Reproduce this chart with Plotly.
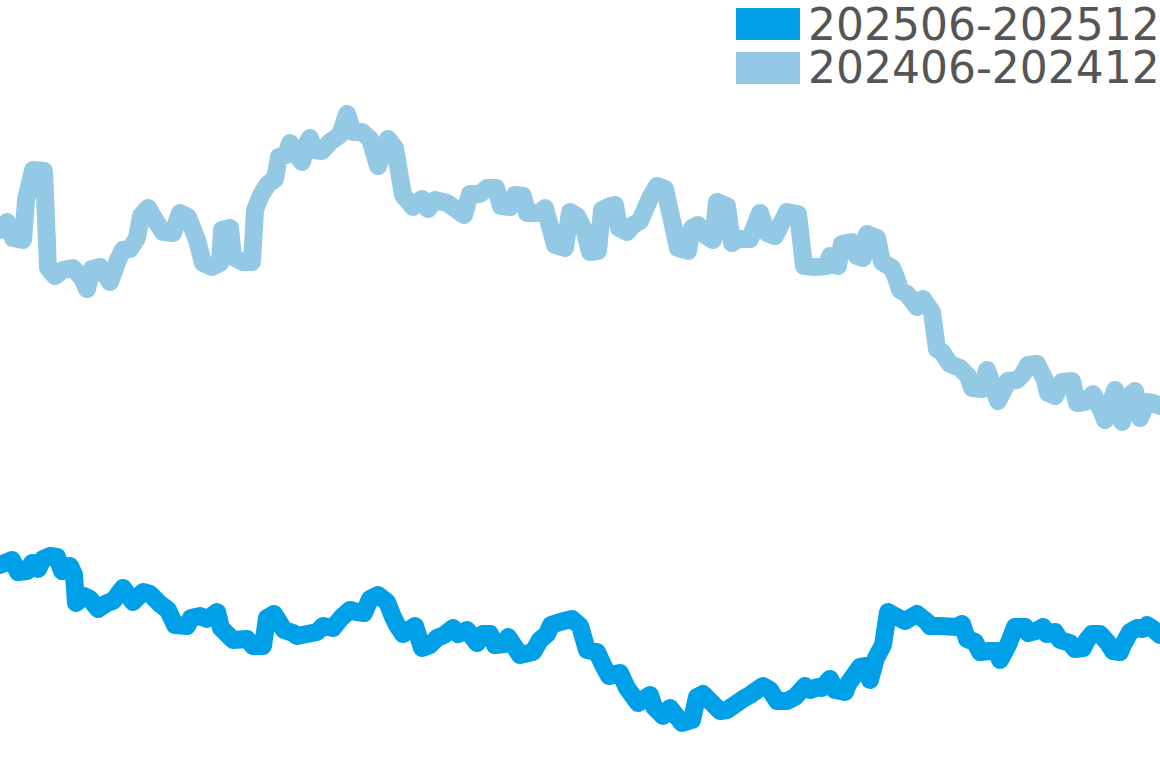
import plotly.graph_objects as go

# two half-year windows, positions along the time axis and index values
t_2025 = [0, 12, 18, 27, 32, 38, 43, 50, 57, 62,
          70, 74, 76, 84, 90, 98, 107, 113, 123, 133,
          143, 150, 160, 168, 175, 187, 191, 200, 207, 217,
          221, 233, 247, 253, 263, 267, 274, 284, 293, 297,
          307, 317, 323, 333, 341, 350, 357, 364, 370, 378,
          387, 393, 397, 403, 415, 422, 430, 437, 444, 453,
          458, 467, 477, 483, 490, 495, 505, 508, 520, 533,
          540, 547, 551, 560, 572, 580, 587, 597, 603, 609,
          620, 627, 638, 650, 654, 663, 670, 682, 692, 697,
          703, 720, 727, 733, 743, 750, 763, 770, 777, 787,
          795, 805, 810, 818, 822, 830, 835, 845, 848, 860,
          866, 870, 876, 883, 888, 897, 905, 917, 927, 930,
          940, 957, 962, 967, 975, 980, 990, 997, 1000, 1008,
          1015, 1025, 1028, 1036, 1043, 1047, 1055, 1060, 1070, 1075,
          1083, 1087, 1092, 1100, 1108, 1113, 1120, 1123, 1130, 1137,
          1143, 1147, 1153, 1160]
v_2025 = [203, 208, 196, 197, 205, 199, 209, 212, 211, 197,
          202, 193, 165, 172, 169, 159, 165, 167, 180, 166,
          176, 174, 164, 158, 143, 142, 150, 152, 149, 156,
          140, 128, 129, 122, 122, 150, 154, 138, 135, 132,
          134, 136, 142, 140, 150, 158, 156, 155, 169, 173,
          166, 151, 143, 134, 142, 120, 123, 130, 133, 140,
          134, 138, 125, 134, 134, 123, 124, 131, 113, 116,
          128, 134, 143, 146, 149, 142, 118, 116, 103, 92,
          95, 80, 65, 73, 61, 52, 60, 45, 48, 71,
          74, 57, 58, 62, 69, 73, 82, 78, 67, 67,
          71, 82, 78, 81, 80, 89, 78, 76, 84, 101,
          102, 88, 110, 123, 156, 151, 147, 154, 146, 142,
          142, 141, 144, 129, 126, 116, 117, 117, 108, 123,
          141, 141, 135, 137, 141, 134, 136, 128, 125, 119,
          120, 128, 134, 134, 125, 117, 116, 123, 136, 140,
          139, 143, 139, 133]

t_2024 = [0, 7, 13, 23, 26, 33, 44, 48, 55, 63,
          73, 82, 87, 92, 100, 110, 118, 123, 130, 137,
          141, 148, 155, 163, 173, 180, 188, 197, 203, 212,
          220, 222, 230, 233, 243, 252, 255, 261, 268, 275,
          279, 286, 290, 294, 302, 306, 310, 314, 322, 330,
          340, 347, 353, 362, 370, 378, 388, 395, 403, 413,
          422, 428, 435, 447, 453, 464, 470, 480, 487, 496,
          501, 510, 515, 523, 527, 540, 545, 555, 565, 570,
          577, 585, 590, 598, 602, 610, 615, 619, 627, 633,
          640, 650, 657, 665, 678, 688, 692, 698, 705, 713,
          717, 727, 732, 738, 750, 760, 767, 775, 787, 798,
          804, 815, 827, 830, 838, 842, 852, 857, 863, 867,
          877, 882, 892, 897, 900, 907, 917, 923, 932, 937,
          942, 950, 960, 968, 972, 982, 987, 998, 1008, 1017,
          1023, 1028, 1037, 1045, 1048, 1055, 1062, 1072, 1077, 1085,
          1093, 1102, 1105, 1115, 1122, 1127, 1135, 1140, 1147, 1153,
          1160]
v_2024 = [538, 546, 530, 528, 568, 598, 597, 500, 492, 498,
          500, 490, 479, 499, 501, 486, 508, 518, 519, 530,
          552, 560, 548, 536, 535, 555, 551, 528, 505, 501,
          505, 538, 540, 511, 506, 506, 558, 573, 584, 589,
          611, 613, 625, 616, 606, 623, 630, 618, 617, 626,
          633, 654, 636, 636, 629, 602, 629, 620, 573, 561,
          569, 559, 568, 565, 561, 553, 574, 574, 580, 580,
          562, 561, 573, 572, 555, 555, 560, 523, 520, 556,
          552, 536, 516, 517, 558, 562, 563, 540, 536, 543,
          547, 570, 582, 579, 520, 517, 540, 543, 533, 528,
          566, 562, 525, 529, 529, 555, 535, 532, 556, 554,
          502, 501, 502, 512, 502, 524, 526, 512, 510, 534,
          530, 506, 500, 488, 478, 474, 461, 469, 456, 419,
          416, 404, 400, 392, 380, 379, 398, 367, 387, 388,
          394, 403, 404, 388, 375, 372, 386, 387, 365, 366,
          374, 356, 348, 378, 346, 370, 377, 350, 366, 365,
          362]

labels = ["202506-202512", "202406-202412"]
colors = ["#00A0E9", "#93C9E5"]

W, H = 1160, 768

fig = go.Figure()
fig.add_trace(go.Scatter(x=t_2024, y=v_2024, mode="lines", name=labels[1],
                         line=dict(color=colors[1], width=18, simplify=False),
                         showlegend=False))
fig.add_trace(go.Scatter(x=t_2025, y=v_2025, mode="lines", name=labels[0],
                         line=dict(color=colors[0], width=18, simplify=False),
                         showlegend=False))

# legend drawn by hand so the swatches are filled blocks
for i, (lab, col) in enumerate(zip(labels, colors)):
    top = 8 + i * 44
    fig.add_shape(type="rect", xref="paper", yref="paper",
                  x0=736 / W, x1=800 / W, y0=1 - (top + 32) / H, y1=1 - top / H,
                  fillcolor=col, line_width=0)
    fig.add_annotation(xref="paper", yref="paper", x=806 / W, y=1 - (top + 16) / H,
                       xanchor="left", yanchor="middle", text=lab, showarrow=False,
                       font=dict(family="DejaVu Sans", size=44, color="#555555"))

fig.update_xaxes(visible=False, range=[0, 1160])
fig.update_yaxes(visible=False, range=[0, 768])
fig.update_layout(width=W, height=H, margin=dict(l=0, r=0, t=0, b=0),
                  plot_bgcolor="white", paper_bgcolor="white")

# round joins like the original strokes
js = ("document.body.style.margin='0';"
      "document.querySelectorAll('.js-line').forEach(function(p){"
      "p.style.strokeLinejoin='round';p.style.strokeLinecap='round';});")
fig.write_html("out.html", config={"displayModeBar": False}, post_script=js)
